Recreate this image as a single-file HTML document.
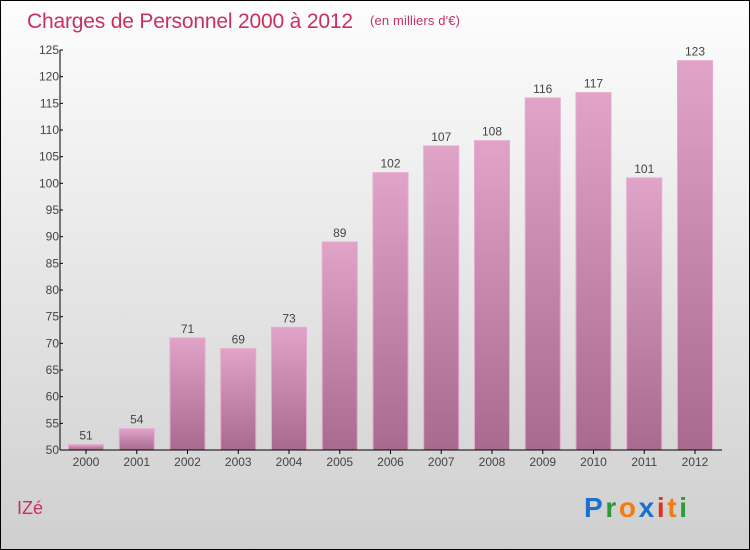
<!DOCTYPE html>
<html><head><meta charset="utf-8"><style>
body{margin:0;}
#wrap{position:relative;width:748px;height:548px;border:1px solid #000;background:linear-gradient(#fdfdfd,#cfcfcf);overflow:hidden;font-family:"Liberation Sans",sans-serif;}
</style></head><body>
<div id="wrap">
<svg id="svg" width="748" height="548" xmlns="http://www.w3.org/2000/svg">
<defs>
<linearGradient id="bg" x1="0" y1="0" x2="0" y2="1"><stop offset="0" stop-color="#e0a4c8"/><stop offset="1" stop-color="#a86a8e"/></linearGradient>
</defs>
<text x="26" y="27" font-size="21" fill="#c8305e" textLength="326">Charges de Personnel 2000 à 2012</text>
<text x="369" y="24" font-size="13" fill="#c8305e" textLength="90">(en milliers d'€)</text>
<text x="16" y="513" font-size="18" fill="#c8305e">IZé</text>
<g font-size="28" font-weight="bold" font-family="'Liberation Sans',sans-serif">
<text x="583" y="516" textLength="103"><tspan fill="#1a6fd0">P</tspan><tspan fill="#2a9a3a">r</tspan><tspan fill="#f07d10">o</tspan><tspan fill="#1a6fd0">x</tspan><tspan fill="#e03020">i</tspan><tspan fill="#f07d10">t</tspan><tspan fill="#2a9a3a">i</tspan></text>
</g>
<g id="plot"></g>
</svg>
</div>
<script>
const categories=["2000","2001","2002","2003","2004","2005","2006","2007","2008","2009","2010","2011","2012"];
const values=[51,54,71,69,73,89,102,107,108,116,117,101,123];
const yTicks=[50,55,60,65,70,75,80,85,90,95,100,105,110,115,120,125];
const NS="http://www.w3.org/2000/svg";
const g=document.getElementById('plot');
const x0=59,yBase=449,yTop=49,yMin=50,yMax=125;
const y=v=>yBase-(v-yMin)/(yMax-yMin)*(yBase-yTop);
const step=50.75,xc=i=>85+i*step,bw=35;
function mk(t,a){const e=document.createElementNS(NS,t);for(const k in a)e.setAttribute(k,a[k]);g.appendChild(e);return e;}
values.forEach((v,i)=>{
 const r=mk('rect',{x:xc(i)-bw/2,y:y(v),width:bw,height:yBase-y(v),fill:'url(#bg)',stroke:'#e6a8cf','stroke-width':1});
 
 
 const t=mk('text',{x:xc(i),y:y(v)-5,'text-anchor':'middle','font-size':12,fill:'#444'});
 t.textContent=v;
 
 
 const xl=mk('text',{x:xc(i),y:yBase+16,'text-anchor':'middle','font-size':12,fill:'#444'});
 xl.textContent=categories[i];
 
 
 mk('line',{x1:xc(i),x2:xc(i),y1:yBase,y2:yBase+4,stroke:'#000'});
});
yTicks.forEach(v=>{
 mk('line',{x1:x0,x2:x0+3,y1:y(v),y2:y(v),stroke:'#000'});
 const t=mk('text',{x:x0-1,y:y(v)+4,'text-anchor':'end','font-size':12,fill:'#444'});
 t.textContent=v;
 
 
});
const ya=mk('line',{x1:x0,x2:x0,y1:yTop,y2:yBase,stroke:'#000'});


const xa=mk('line',{x1:x0,x2:721,y1:yBase,y2:yBase,stroke:'#000'});


</script>
</body></html>
